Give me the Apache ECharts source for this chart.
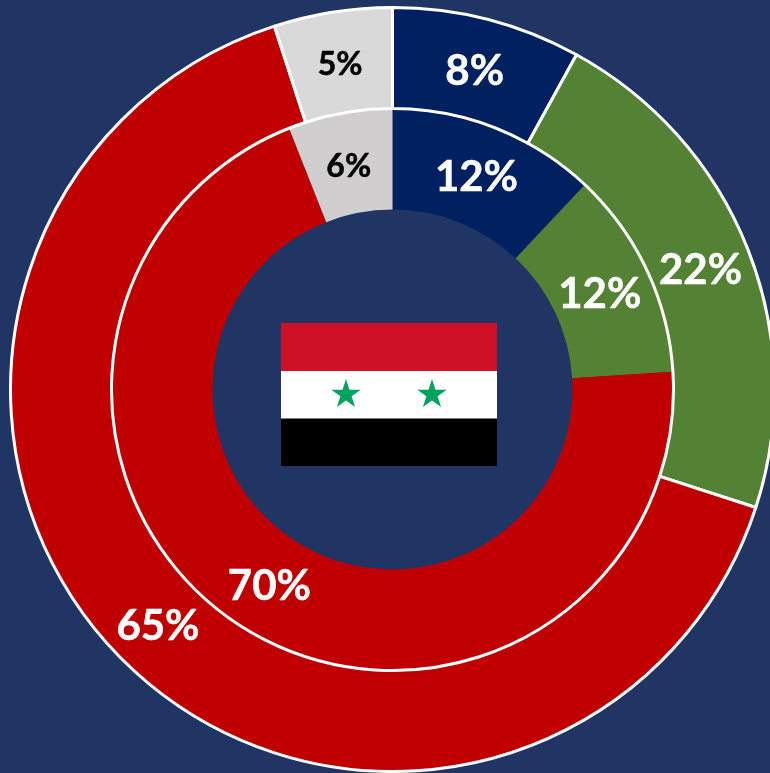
<!DOCTYPE html>
<html>
<head>
<meta charset="utf-8">
<style>
  html, body { margin: 0; padding: 0; background: #203564; overflow: hidden; }
  #chart { width: 770px; height: 773px; }
</style>
</head>
<body>
<div id="chart"></div>
<script src="https://cdn.jsdelivr.net/npm/echarts@6/dist/echarts.min.js"></script>
<script>
const categories = ["Navy", "Green", "Red", "Grey"];
const outerValues = [8, 22, 65, 5];
const innerValues = [12, 12, 70, 6];
const sliceColors = ["#002060", "#548235", "#C00000"];
const outerGrey = "#D9D9D9";
const innerGrey = "#D0CECE";
const labelColors = ["#fff", "#fff", "#fff", "#000"];
// small nudges so the labels sit where the reference has them
const outerOffsets = [[-1, 6], [-3, 4], [2, 0], [0, 6]];
const innerOffsets = [[-2, 5], [-4, 4], [2, 0], [0, 7]];

const cx = 392.5;
const cy = 389.5;

function toData(values, grey, offsets) {
  return values.map((v, i) => ({
    name: categories[i],
    value: v,
    itemStyle: { color: i === 3 ? grey : sliceColors[i] },
    label: {
      color: labelColors[i],
      textBorderColor: labelColors[i],
      textBorderWidth: 0.5,
      fontSize: i === 3 ? 32 : 42,
      offset: offsets[i],
    },
  }));
}

// five pointed star for the flag
function starPoints(x, y, r) {
  const pts = [];
  for (let i = 0; i < 10; i++) {
    const rad = i % 2 === 0 ? r : r * 0.382;
    const a = -Math.PI / 2 + (i * Math.PI) / 5;
    pts.push([x + rad * Math.cos(a), y + rad * Math.sin(a)]);
  }
  return pts;
}

const pieBase = {
  type: "pie",
  center: [cx, cy],
  startAngle: 90,
  clockwise: true,
  silent: true,
  animation: false,
  labelLine: { show: false },
  label: {
    position: "inside",
    formatter: "{c}%",
    fontFamily: "Lato",
    fontWeight: "bold",
  },
};

const chart = echarts.init(document.getElementById("chart"));
chart.setOption({
  backgroundColor: "#203564",
  series: [
    {
      ...pieBase,
      name: "Inner",
      radius: [180, 281],
      data: toData(innerValues, innerGrey, innerOffsets),
    },
    {
      ...pieBase,
      name: "Outer",
      radius: [281, 382],
      itemStyle: { borderColor: "#fff", borderWidth: 3 },
      data: toData(outerValues, outerGrey, outerOffsets),
    },
  ],
  graphic: [
    { type: "rect", z: 10, shape: { x: 281, y: 323, width: 216, height: 48 }, style: { fill: "#CE1126" } },
    { type: "rect", z: 10, shape: { x: 281, y: 371, width: 216, height: 48 }, style: { fill: "#fff" } },
    { type: "rect", z: 10, shape: { x: 281, y: 418.5, width: 216, height: 47.5 }, style: { fill: "#000" } },
    { type: "polygon", z: 11, shape: { points: starPoints(346, 394.5, 15.5) }, style: { fill: "#00A25D" } },
    { type: "polygon", z: 11, shape: { points: starPoints(432, 394.5, 15.5) }, style: { fill: "#00A25D" } },
  ],
});
</script>
</body>
</html>
